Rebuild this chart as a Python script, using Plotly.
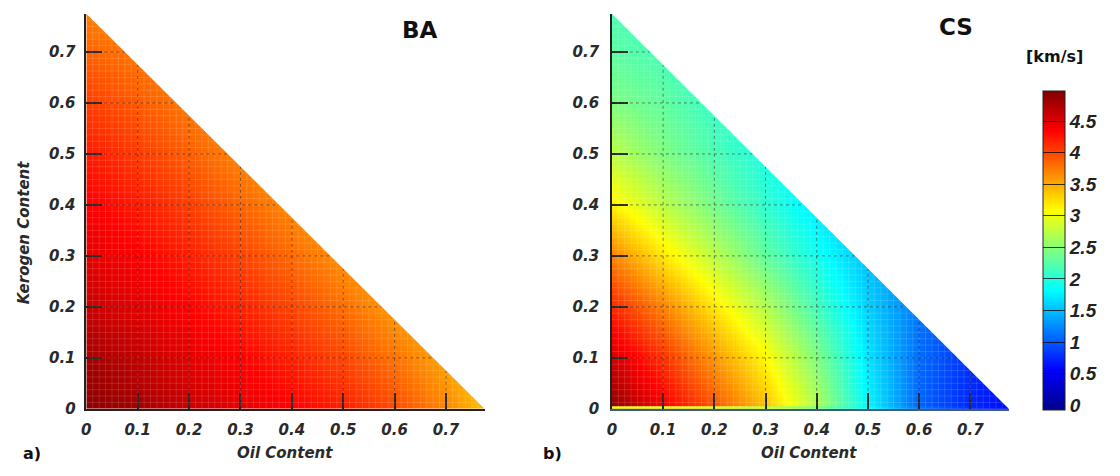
import plotly.graph_objects as go

# ---------------- data ----------------
oil_content = [0.0, 0.1, 0.2, 0.3, 0.4, 0.5, 0.6, 0.7, 0.8]
kerogen_content = [0.0, 0.1, 0.2, 0.3, 0.4, 0.5, 0.6, 0.7, 0.8]

# BA velocity [km/s], rows = kerogen content, columns = oil content
ba_velocity = [
    [4.92, 4.80, 4.62, 4.48, 4.35, 4.20, 3.98, 3.68, 3.30],
    [4.80, 4.65, 4.48, 4.34, 4.18, 4.00, 3.78, 3.52, 3.30],
    [4.62, 4.48, 4.34, 4.18, 4.00, 3.80, 3.58, 3.40, 3.30],
    [4.48, 4.36, 4.20, 4.02, 3.82, 3.62, 3.45, 3.36, 3.30],
    [4.36, 4.22, 4.04, 3.85, 3.66, 3.48, 3.37, 3.32, 3.30],
    [4.22, 4.06, 3.88, 3.70, 3.55, 3.42, 3.35, 3.30, 3.30],
    [4.05, 3.90, 3.74, 3.60, 3.48, 3.40, 3.35, 3.30, 3.30],
    [3.86, 3.76, 3.65, 3.54, 3.45, 3.40, 3.35, 3.30, 3.30],
    [3.68, 3.62, 3.56, 3.50, 3.45, 3.40, 3.35, 3.30, 3.30],
]

# CS velocity [km/s]
cs_velocity = [
    [4.90, 4.40, 3.95, 3.40, 2.70, 1.80, 1.05, 0.75, 0.55],
    [4.55, 4.10, 3.60, 3.10, 2.45, 1.70, 1.10, 0.80, 0.60],
    [4.15, 3.70, 3.20, 2.70, 2.15, 1.60, 1.15, 0.85, 0.60],
    [3.70, 3.20, 2.75, 2.30, 1.90, 1.50, 1.15, 0.85, 0.60],
    [3.15, 2.75, 2.40, 2.05, 1.70, 1.42, 1.12, 0.85, 0.60],
    [2.75, 2.45, 2.20, 1.95, 1.62, 1.38, 1.10, 0.85, 0.60],
    [2.45, 2.30, 2.10, 1.88, 1.58, 1.35, 1.10, 0.85, 0.60],
    [2.28, 2.18, 2.02, 1.82, 1.55, 1.32, 1.10, 0.85, 0.60],
    [2.18, 2.10, 1.98, 1.78, 1.52, 1.30, 1.10, 0.85, 0.60],
]

# CS values along the kerogen-free edge (thin strip at the bottom)
cs_edge_velocity = [2.95, 2.92, 2.88, 2.78, 2.45, 1.85, 1.15, 0.80, 0.55]
cs_edge_kerogen = [0.0012, 0.0038]

max_fraction = 0.775          # oil + kerogen limit (triangle hypotenuse)
axis_ticks = [0.0, 0.1, 0.2, 0.3, 0.4, 0.5, 0.6, 0.7]
axis_ticktext = ["0", "0.1", "0.2", "0.3", "0.4", "0.5", "0.6", "0.7"]
cbar_ticks = [0, 0.5, 1, 1.5, 2, 2.5, 3, 3.5, 4, 4.5]
cbar_ticktext = ["0", "0.5", "1", "1.5", "2", "2.5", "3", "3.5", "4", "4.5"]
cbar_min, cbar_max = -0.07, 4.98

# ---------------- style ----------------
W, H = 1120, 476
jet = [
    [0.0, "rgb(0,0,140)"],
    [0.125, "rgb(0,0,255)"],
    [0.375, "rgb(0,255,255)"],
    [0.625, "rgb(255,255,0)"],
    [0.875, "rgb(255,0,0)"],
    [1.0, "rgb(128,0,0)"],
]

def px_x(p):
    return p / W

def px_y(p):
    return (H - p) / H

left_dom = [px_x(82.5), px_x(486.5)]
right_dom = [px_x(615.7), px_x(1018.3)]
y_dom = [px_y(416.7), px_y(14)]

tickfont = dict(family="DejaVu Sans", size=15, color="#2a2a2a", weight="bold", style="italic")

fig = go.Figure()

fig.add_trace(go.Heatmap(
    x=oil_content, y=kerogen_content, z=ba_velocity,
    colorscale=jet, zmin=cbar_min, zmax=cbar_max, zsmooth="best",
    showscale=False, xaxis="x", yaxis="y", hoverinfo="skip",
))

fig.add_trace(go.Heatmap(
    x=oil_content, y=kerogen_content, z=cs_velocity,
    colorscale=jet, zmin=cbar_min, zmax=cbar_max, zsmooth="best",
    xaxis="x2", yaxis="y2", hoverinfo="skip",
    colorbar=dict(
        x=px_x(1053), xanchor="left", xpad=0,
        y=px_y(417.6), yanchor="bottom", ypad=0,
        len=(417.6 - 92) / H, lenmode="fraction",
        thickness=22, thicknessmode="pixels",
        outlinewidth=1, outlinecolor="#222",
        ticks="inside", ticklen=22, tickwidth=1.3, tickcolor="rgba(0,0,0,0.75)",
        tickvals=cbar_ticks, ticktext=cbar_ticktext,
        tickfont=dict(family="Liberation Sans Narrow, Liberation Sans", size=19,
                      color="#222", style="italic", weight="bold"),
    ),
))

fig.add_trace(go.Heatmap(
    x=oil_content, y=cs_edge_kerogen, z=[cs_edge_velocity, cs_edge_velocity],
    colorscale=jet, zmin=cbar_min, zmax=cbar_max, zsmooth="best",
    showscale=False, xaxis="x2", yaxis="y2", hoverinfo="skip",
))

def axis_common(dom, anchor, linecolor):
    return dict(
        domain=dom, anchor=anchor, range=[0, max_fraction],
        showgrid=False, zeroline=False,
        showline=True, linecolor=linecolor, linewidth=1.5,
        ticks="inside", ticklen=16, tickwidth=1.5, tickcolor="#222",
        tickvals=axis_ticks, ticktext=axis_ticktext, tickfont=tickfont,
    )

xa = axis_common(left_dom, "y", "#222"); xa["ticklabelstandoff"] = 6
ya = axis_common(y_dom, "x", "#222"); ya["ticklabelstandoff"] = 6
xa2 = axis_common(right_dom, "y2", "#3d5a85"); xa2["ticklabelstandoff"] = 6
ya2 = axis_common(y_dom, "x2", "#222"); ya2["ticklabelstandoff"] = 8

shapes = []
m = max_fraction
mesh_step = m / 62.0
for xr, yr, xdom in (("x", "y", left_dom), ("x2", "y2", right_dom)):
    # faint light mesh texture
    k = 1
    while k * mesh_step < m:
        t = k * mesh_step
        shapes.append(dict(type="line", xref=xr, yref=yr, layer="above",
                           x0=t, x1=t, y0=0, y1=m - t,
                           line=dict(color="rgba(255,255,255,0.13)", width=1)))
        shapes.append(dict(type="line", xref=xr, yref=yr, layer="above",
                           x0=0, x1=m - t, y0=t, y1=t,
                           line=dict(color="rgba(255,255,255,0.13)", width=1)))
        k += 1
    # dotted grid lines clipped to the triangle
    for t in axis_ticks[1:]:
        shapes.append(dict(type="line", xref=xr, yref=yr, layer="above",
                           x0=t, x1=t, y0=0, y1=m - t,
                           line=dict(color="rgba(20,20,20,0.5)", width=1, dash="dot")))
        shapes.append(dict(type="line", xref=xr, yref=yr, layer="above",
                           x0=0, x1=m - t, y0=t, y1=t,
                           line=dict(color="rgba(20,20,20,0.5)", width=1, dash="dot")))
    # white mask above the hypotenuse (paper coords so it is not clipped)
    x0, x1 = xdom
    y0, y1 = y_dom
    shapes.append(dict(
        type="path", xref="paper", yref="paper", layer="above",
        path=(f"M {x0},{y1} L {x1},{y0} L {x1 + 0.01},{y0} "
              f"L {x1 + 0.01},{y1 + 0.01} L {x0},{y1 + 0.01} Z"),
        fillcolor="white", line=dict(width=0),
    ))

title_font = dict(family="DejaVu Sans", size=15, color="#2a2a2a", weight="bold", style="italic")
label_font = dict(family="DejaVu Sans", size=23, color="#111", weight="bold")

annotations = [
    dict(text="BA", x=px_x(421), y=px_y(31), xref="paper", yref="paper",
         showarrow=False, font=label_font, xanchor="center", yanchor="middle"),
    dict(text="CS", x=px_x(965), y=px_y(28), xref="paper", yref="paper",
         showarrow=False, font=label_font, xanchor="center", yanchor="middle"),
    dict(text="[km/s]", x=px_x(1065), y=px_y(58), xref="paper", yref="paper",
         showarrow=False, font=dict(family="DejaVu Sans", size=16, color="#111", weight="bold"),
         xanchor="center", yanchor="middle"),
    dict(text="Kerogen Content", x=px_x(19), y=px_y(237), xref="paper", yref="paper",
         showarrow=False, font=title_font, textangle=-90, xanchor="center", yanchor="middle"),
    dict(text="Oil Content", x=px_x(284), y=px_y(462), xref="paper", yref="paper",
         showarrow=False, font=title_font, xanchor="center", yanchor="middle"),
    dict(text="Oil Content", x=px_x(816), y=px_y(462), xref="paper", yref="paper",
         showarrow=False, font=title_font, xanchor="center", yanchor="middle"),
    dict(text="a)", x=px_x(27), y=px_y(462), xref="paper", yref="paper",
         showarrow=False, font=dict(family="DejaVu Sans", size=16, color="#111", weight="bold"),
         xanchor="center", yanchor="middle"),
    dict(text="b)", x=px_x(555), y=px_y(462), xref="paper", yref="paper",
         showarrow=False, font=dict(family="DejaVu Sans", size=16, color="#111", weight="bold"),
         xanchor="center", yanchor="middle"),
]

fig.update_layout(
    width=W, height=H, margin=dict(l=0, r=0, t=0, b=0),
    paper_bgcolor="white", plot_bgcolor="white",
    xaxis=xa, yaxis=ya, xaxis2=xa2, yaxis2=ya2,
    shapes=shapes, annotations=annotations, showlegend=False,
)

fig.write_html("out.html")
